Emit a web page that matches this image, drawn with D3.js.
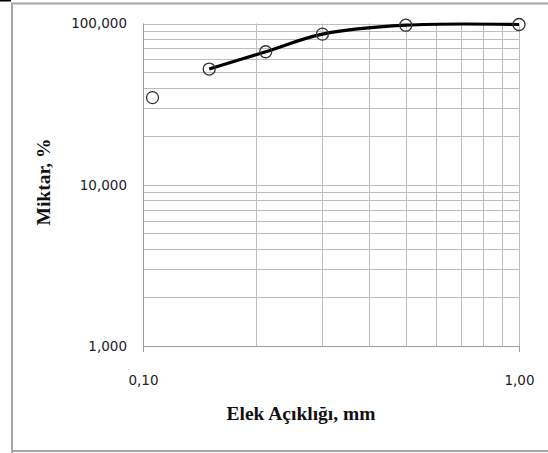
<!DOCTYPE html>
<html><head><meta charset="utf-8">
<script src="https://cdn.jsdelivr.net/npm/d3@7"></script>
<style>body{margin:0;background:#fff}svg{display:block}</style>
</head><body>
<svg id="c" width="548" height="453"></svg>
<script>
const sizes = [0.106, 0.15, 0.212, 0.3, 0.5, 1.0];
const passing = [34.7, 52.2, 66.8, 85.9, 97.6, 98.6];
const curveFrom = 1; // line drawn from the second point onward
const yTickValues = [1, 10, 100];
const yTickLabels = ["1,000", "10,000", "100,000"];
const xTickValues = [0.1, 1];
const xTickLabels = ["0,10", "1,00"];
const xTitle = "Elek Açıklığı, mm";
const yTitle = "Miktar, %";

const svg = d3.select("#c");
const L = 143, R = 519, T = 23.5, B = 346;
const x = d3.scaleLog().domain([0.1, 1]).range([L, R]);
const y = d3.scaleLog().domain([1, 100]).range([B, T]);

// outer frame
svg.append("rect").attr("x",0).attr("y",0).attr("width",11).attr("height",1.5).attr("fill","#000");
svg.append("path").attr("d",`M12,453 V3.5 H548`).attr("fill","none").attr("stroke","#a6a6a6").attr("stroke-width",2);
svg.append("line").attr("x1",11).attr("x2",548).attr("y1",451).attr("y2",451).attr("stroke","#a6a6a6").attr("stroke-width",2);

// grid
const yMinor = [];
[1,10].forEach(d=>{for(let k=1;k<=10;k++) yMinor.push(d*k);});
const yGrid = Array.from(new Set(yMinor));
svg.append("g").selectAll("line").data(yGrid).join("line")
  .attr("x1",L).attr("x2",R).attr("y1",d=>Math.round(y(d))+0.5).attr("y2",d=>Math.round(y(d))+0.5)
  .attr("stroke","#bdbdbd").attr("stroke-width",1);
const xGrid = d3.range(2,11).map(k=>k/10);
svg.append("g").selectAll("line").data(xGrid).join("line")
  .attr("x1",d=>Math.round(x(d))+0.5).attr("x2",d=>Math.round(x(d))+0.5).attr("y1",T).attr("y2",B)
  .attr("stroke","#bdbdbd").attr("stroke-width",1);

// axes
const xAxis = d3.axisBottom(x).tickValues(xTickValues).tickFormat((d,i)=>xTickLabels[i]).tickSize(6).tickPadding(23);
const gx = svg.append("g").attr("transform",`translate(0,${B})`).call(xAxis);
gx.select(".domain").attr("stroke","#9a9a9a").attr("d",`M${L},0.5H${R}`);
gx.selectAll(".tick line").attr("stroke","#9a9a9a");
gx.selectAll("text").attr("font-family","DejaVu Sans, Verdana, sans-serif").attr("font-size","13.5px").attr("fill","#222");

const yAxis = d3.axisLeft(y).tickValues(yTickValues).tickFormat((d,i)=>yTickLabels[i]).tickSize(0).tickPadding(16);
const gy = svg.append("g").attr("transform",`translate(${L},0)`).call(yAxis);
gy.select(".domain").attr("stroke","#9a9a9a").attr("d",`M0.5,${T}V${B}`);
gy.selectAll("text").attr("font-family","DejaVu Sans, Verdana, sans-serif").attr("font-size","13.5px").attr("fill","#222");

// line
const pts = sizes.map((s,i)=>({s, p:passing[i]}));
const line = d3.line().x(d=>x(d.s)).y(d=>y(d.p)).curve(d3.curveCatmullRom.alpha(0.5));
svg.append("path").datum(pts.slice(curveFrom)).attr("d",line)
  .attr("fill","none").attr("stroke","#000").attr("stroke-width",3.2).attr("stroke-linejoin","round");

// markers
svg.append("g").selectAll("circle").data(pts).join("circle")
  .attr("cx",d=>x(d.s)).attr("cy",d=>y(d.p)).attr("r",6)
  .attr("fill","none").attr("stroke","#333").attr("stroke-width",1.3);

// titles
svg.append("text").attr("x",301).attr("y",420).attr("text-anchor","middle")
  .attr("font-family","Liberation Serif, Times New Roman, serif").attr("font-weight","bold").attr("font-size","19.5px").attr("fill","#111").text(xTitle);
svg.append("text").attr("transform","translate(50,182) rotate(-90)").attr("text-anchor","middle")
  .attr("font-family","Liberation Serif, Times New Roman, serif").attr("font-weight","bold").attr("font-size","19.5px").attr("fill","#111").text(yTitle);
</script>
</body></html>
